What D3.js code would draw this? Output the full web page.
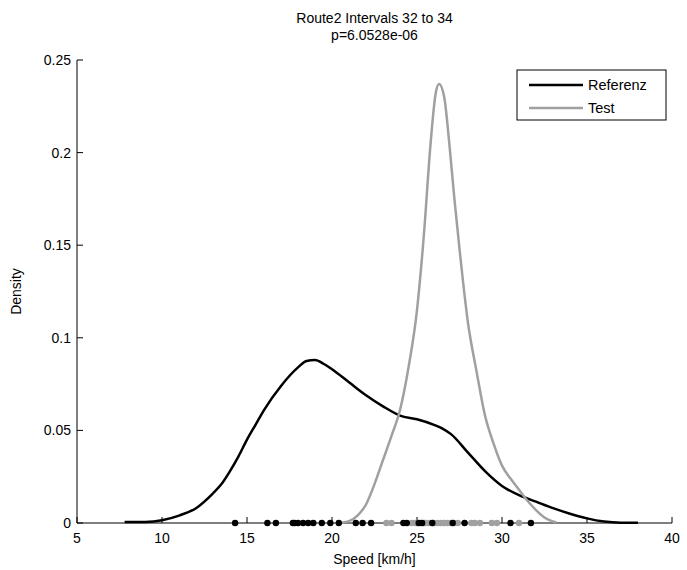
<!DOCTYPE html>
<html><head><meta charset="utf-8">
<script src="https://cdn.jsdelivr.net/npm/d3@7"></script>
<style>body{margin:0;background:#fff}svg{display:block}text{font-family:"Liberation Sans",Arial,sans-serif;fill:#000}</style>
</head><body><svg id="c" width="687" height="570"></svg>
<script>
// Data
const refX = [7.8,9,10,11,12,13,13.5,14,14.5,15,15.5,16,17,18,18.5,19,19.5,20,21,22,23,24,25,26,26.5,27,28,29,30,31,32,33,34,35,36,37,38];
const refY = [0.0005,0.0006,0.0015,0.004,0.008,0.016,0.021,0.028,0.036,0.045,0.053,0.061,0.074,0.084,0.0875,0.088,0.086,0.083,0.076,0.069,0.063,0.058,0.056,0.053,0.051,0.048,0.038,0.028,0.020,0.015,0.0115,0.008,0.005,0.0025,0.0008,0.0002,0.0002];
const testX = [20.6,21,21.5,22,22.5,23,23.5,24,24.5,25,25.4,25.8,26.1,26.3,26.6,26.9,27.2,27.5,28,28.5,29,29.5,30,30.5,31,31.5,32,32.5,33.2];
const testY = [0.0003,0.001,0.004,0.01,0.021,0.034,0.047,0.061,0.084,0.115,0.155,0.205,0.232,0.237,0.23,0.205,0.175,0.148,0.108,0.082,0.058,0.043,0.031,0.024,0.018,0.012,0.007,0.003,0.0003];
const refSamples = [14.3,16.2,16.7,17.7,17.8,18.0,18.3,18.6,18.9,19.4,19.9,20.4,21.4,21.8,22.3,24.2,24.4,25.1,25.3,25.9,27.1,27.8,30.5,31.7];
const testSamples = [23.2,23.5,24.7,24.9,25.0,25.2,25.4,25.5,25.7,25.9,26.0,26.2,26.4,26.6,26.8,27.0,27.2,27.4,28.2,28.4,28.7,29.4,29.7,31.0];
const xTicks = [5,10,15,20,25,30,35,40];
const yTicks = [0,0.05,0.1,0.15,0.2,0.25];
const yTickLabels = ["0","0.05","0.1","0.15","0.2","0.25"];
const seriesNames = ["Referenz","Test"];
const titleLines = ["Route2 Intervals 32 to 34","p=6.0528e-06"];

const L=77,R=672,T=60,B=523;
const svg=d3.select("#c");
const x=d3.scaleLinear().domain([5,40]).range([L,R]);
const y=d3.scaleLinear().domain([0,0.25]).range([B,T]);
const black="#000", gray="#a0a0a0";

// axes
svg.append("line").attr("x1",L).attr("x2",L).attr("y1",T).attr("y2",B).attr("stroke","#000");
svg.append("line").attr("x1",L).attr("x2",R).attr("y1",B).attr("y2",B).attr("stroke","#000");
xTicks.forEach(t=>{
  svg.append("line").attr("x1",x(t)).attr("x2",x(t)).attr("y1",B).attr("y2",B-6).attr("stroke","#000");
  svg.append("text").attr("x",x(t)).attr("y",B+20).attr("text-anchor","middle").attr("font-size",14).text(t);
});
yTicks.forEach((t,i)=>{
  svg.append("line").attr("x1",L).attr("x2",L+6).attr("y1",y(t)).attr("y2",y(t)).attr("stroke","#000");
  svg.append("text").attr("x",L-6).attr("y",y(t)+5).attr("text-anchor","end").attr("font-size",14).text(yTickLabels[i]);
});
svg.append("text").attr("x",(L+R)/2).attr("y",564).attr("text-anchor","middle").attr("font-size",14).text("Speed [km/h]");
svg.append("text").attr("transform",`translate(21,${(T+B)/2}) rotate(-90)`).attr("text-anchor","middle").attr("font-size",14).text("Density");
titleLines.forEach((s,i)=>svg.append("text").attr("x",(L+R)/2).attr("y",23+i*17).attr("text-anchor","middle").attr("font-size",14).text(s));

const line=d3.line().x(d=>x(d[0])).y(d=>y(d[1])).curve(d3.curveMonotoneX);
svg.append("path").attr("d",line(refX.map((v,i)=>[v,refY[i]]))).attr("fill","none").attr("stroke",black).attr("stroke-width",2.5);
svg.append("path").attr("d",line(testX.map((v,i)=>[v,testY[i]]))).attr("fill","none").attr("stroke",gray).attr("stroke-width",2.5);

svg.selectAll(".tdot").data(testSamples).enter().append("circle").attr("cx",d=>x(d)).attr("cy",y(0)).attr("r",3.2).attr("fill",gray);
svg.selectAll(".rdot").data(refSamples).enter().append("circle").attr("cx",d=>x(d)).attr("cy",y(0)).attr("r",3.2).attr("fill",black);

// legend
const lg=svg.append("g");
lg.append("rect").attr("x",517).attr("y",70).attr("width",149).attr("height",50).attr("fill","#fff").attr("stroke","#000");
[black,gray].forEach((c,i)=>{
  const yy=85+i*23;
  lg.append("line").attr("x1",529).attr("x2",583).attr("y1",yy).attr("y2",yy).attr("stroke",c).attr("stroke-width",2.5);
  lg.append("text").attr("x",588).attr("y",yy+5).attr("font-size",14.5).text(seriesNames[i]);
});
</script></body></html>
